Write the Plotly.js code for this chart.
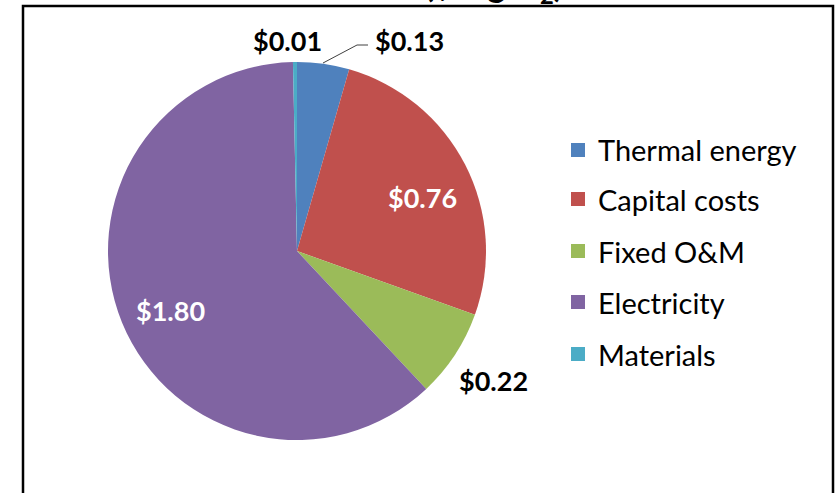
<!DOCTYPE html>
<html><head><meta charset="utf-8">
<script src="https://cdn.plot.ly/plotly-3.0.1.min.js"></script>
<style>html,body{margin:0;padding:0;background:#fff}#chart{width:836px;height:493px}</style>
</head><body><div id="chart"></div>
<script>
const categories = ["Thermal energy", "Capital costs", "Fixed O&M", "Electricity", "Materials"];
const values = [0.13, 0.76, 0.22, 1.80, 0.01];
const colors = ["#4F81BD", "#C0504D", "#9BBB59", "#8064A2", "#4BACC6"];
const titleText = "Cost ($/kg H<sub>2</sub>)";

const W = 836, H = 493;
const px = x => x / W;
const py = y => 1 - y / H;
const fmt = v => "$" + v.toFixed(2);

// label placement (pixel positions), colour per slice
const labelPos = [[409, 40], [423, 198], [493, 380], [170, 310], [287, 40]];
const labelColor = ["#000", "#fff", "#000", "#fff", "#000"];

const annotations = values.map((v, i) => ({
  text: "<b>" + fmt(v) + "</b>", x: px(labelPos[i][0]), y: py(labelPos[i][1]),
  xref: "paper", yref: "paper", showarrow: false, xanchor: "center", yanchor: "middle",
  font: {family: "Lato, sans-serif", size: 27, color: labelColor[i]}
}));

// legend drawn manually
const legY = [150, 199, 251, 302, 354];
const shapes = [];
categories.forEach((c, i) => {
  shapes.push({type: "rect", xref: "paper", yref: "paper",
    x0: px(571), x1: px(585), y0: py(legY[i] + 7), y1: py(legY[i] - 7),
    fillcolor: colors[i], line: {width: 0}});
  annotations.push({text: c, x: px(596), y: py(legY[i]), xref: "paper", yref: "paper",
    showarrow: false, xanchor: "left", yanchor: "middle",
    font: {family: "Lato, sans-serif", size: 29, color: "#000"}});
});
// leader line for the Thermal energy label
shapes.push({type: "path", xref: "paper", yref: "paper",
  path: `M ${px(323)} ${py(63)} L ${px(357)} ${py(45)} L ${px(368)} ${py(45)}`,
  line: {color: "#404040", width: 1}});
// chart frame
shapes.push({type: "rect", xref: "paper", yref: "paper",
  x0: px(23), x1: px(833), y0: py(500), y1: py(6), line: {color: "#000", width: 2.5}});

// partially visible title (clipped at top)
annotations.push({text: "<b>" + titleText + "</b>", x: px(455), y: py(-14), xref: "paper", yref: "paper",
  showarrow: false, xanchor: "center", yanchor: "middle",
  font: {family: "Lato, sans-serif", size: 34, color: "#000"}});

const data = [{
  type: "pie", labels: categories, values: values, sort: false, direction: "clockwise",
  rotation: 0, marker: {colors: colors, line: {width: 0}}, textinfo: "none", hoverinfo: "none",
  domain: {x: [px(108), px(486)], y: [py(440), py(62)]}, showlegend: false
}];

const layout = {
  width: W, height: H, margin: {l: 0, r: 0, t: 0, b: 0},
  paper_bgcolor: "#fff", showlegend: false, annotations: annotations, shapes: shapes
};
Plotly.newPlot("chart", data, layout, {displayModeBar: false, staticPlot: true});
</script></body></html>
